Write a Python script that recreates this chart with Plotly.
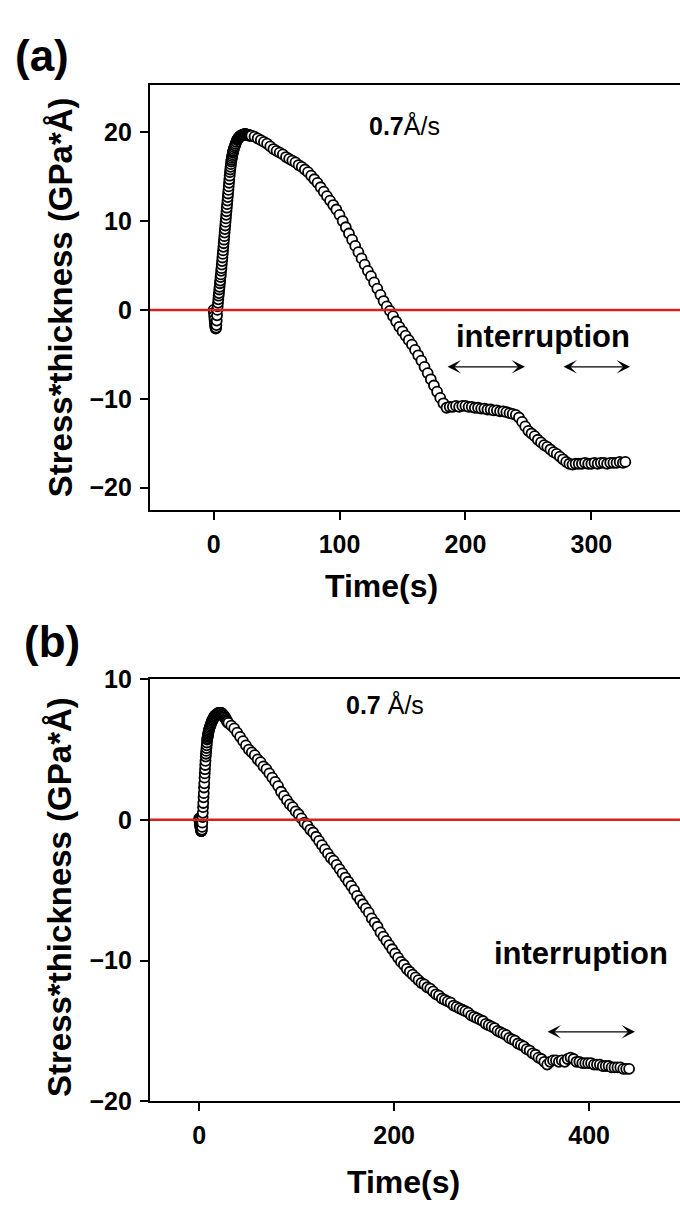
import plotly.graph_objects as go

W, H = 680, 1207
FONT = "Arial, 'Liberation Sans', Helvetica, sans-serif"

# ---------------- data: panel (a) ----------------
t_a = [0, 0.25, 0.5, 0.75, 1, 1.25, 1.5, 1.75, 2, 2.25, 2.5, 2.75, 3, 3.25, 3.5, 3.75,
       4, 4.25, 4.5, 4.75, 5, 5.25, 5.5, 5.75, 6, 6.25, 6.5, 6.75, 7, 7.25, 7.5, 7.75,
       8, 8.25, 8.5, 8.75, 9, 9.25, 9.5, 9.75, 10, 10.25, 10.5, 10.75, 11, 11.25, 11.5, 11.75,
       12, 12.25, 12.5, 12.75, 13, 13.25, 13.5, 13.75, 14, 14.25, 14.5, 14.75, 15, 15.25, 15.5, 15.75, 16,
       16.5, 17, 17.5, 18, 18.5, 19, 19.5, 20, 20.5, 21, 21.5, 22, 22.5, 23, 23.5, 24, 24.5,
       25, 25.5, 26, 26.5, 27, 27.5, 28, 28.5, 29, 29.5,
       30, 32.5, 35, 37.5, 40, 42.5, 45, 47.5, 50, 52.5,
       55, 57.5, 60, 62.5, 65, 67.5, 70, 72.5, 75, 77.5,
       80, 82.5, 85, 87.5, 90, 92.5, 95, 97.5, 100, 102.5,
       105, 107.5, 110, 112.5, 115, 117.5, 120, 122.5, 125, 127.5,
       130, 132.5, 135, 137.5, 140, 142.5, 145, 147.5, 150, 152.5,
       155, 157.5, 160, 162.5, 165, 167.5, 170, 172.5, 175, 177.5,
       180, 182.5, 185, 187.5, 190, 192.5, 195, 197.5, 200, 202.5,
       205, 207.5, 210, 212.5, 215, 217.5, 220, 222.5, 225, 227.5,
       230, 232.5, 235, 237.5, 240, 242.5, 245, 247.5, 250, 252.5,
       255, 257.5, 260, 262.5, 265, 267.5, 270, 272.5, 275, 277.5,
       280, 282.5, 285, 287.5, 290, 292.5, 295, 297.5, 300, 302.5,
       305, 307.5, 310, 312.5, 315, 317.5, 320, 322.5, 325, 327]
v_a = [0.0, -0.3, -0.7, -1.1, -1.5, -1.8, -2.0, -2.1, -2.0, -1.7, -1.2, -0.6, 0.0,
       0.4, 0.8, 1.2, 1.6, 1.9, 2.3, 2.6, 3.0, 3.3, 3.7,
       4.0, 4.4, 4.7, 5.1, 5.5, 5.9, 6.3, 6.7, 7.1, 7.5,
       7.9, 8.3, 8.7, 9.1, 9.5, 9.9, 10.3, 10.7, 11.1, 11.5,
       11.9, 12.3, 12.7, 13.1, 13.5, 13.9, 14.3, 14.7, 15.1, 15.5,
       15.8, 16.1, 16.4, 16.7, 16.9, 17.1, 17.3, 17.5, 17.7, 17.8,
       17.9, 18.1,
       18.3, 18.5, 18.7, 18.9, 19.1, 19.2, 19.3, 19.4, 19.5, 19.5, 19.6, 19.6, 19.7, 19.7,
       19.7, 19.7, 19.8, 19.8, 19.8, 19.7, 19.7, 19.7, 19.7, 19.7, 19.6, 19.6, 19.6,
       19.6, 19.5, 19.3, 19.1, 18.9, 18.7, 18.4, 18.1, 17.9, 17.7,
       17.5, 17.2, 17.0, 16.8, 16.6, 16.3, 16.1, 15.8, 15.5, 15.1,
       14.7, 14.3, 13.8, 13.3, 12.8, 12.3, 11.8, 11.3, 10.7, 10.0,
       9.3, 8.6, 7.9, 7.2, 6.5, 5.8, 5.1, 4.4, 3.8, 3.1,
       2.4, 1.7, 1.0, 0.4, -0.1, -0.7, -1.3, -1.9, -2.4, -2.9,
       -3.4, -3.9, -4.5, -5.1, -5.7, -6.4, -7.1, -7.8, -8.5, -9.2,
       -9.9, -10.5, -11.0, -10.9, -10.9, -10.8, -10.9, -10.8, -10.8, -10.9,
       -10.9, -11.0, -11.0, -11.1, -11.1, -11.2, -11.2, -11.3, -11.3, -11.4,
       -11.4, -11.5, -11.6, -11.7, -11.8, -12.1, -12.6, -13.1, -13.6, -13.9,
       -14.2, -14.6, -14.9, -15.2, -15.4, -15.7, -16.0, -16.2, -16.5, -16.8,
       -17.1, -17.3, -17.4, -17.3, -17.3, -17.3, -17.2, -17.3, -17.3, -17.2,
       -17.3, -17.2, -17.2, -17.3, -17.2, -17.2, -17.2, -17.1, -17.2, -17.1]

# ---------------- data: panel (b) ----------------
t_b = [0, 0.25, 0.5, 0.75, 1, 1.25, 1.5, 1.75, 2, 2.25, 2.5, 2.75, 3, 3.25, 3.5, 3.75,
       4, 4.25, 4.5, 4.75, 5, 5.25, 5.5, 5.75, 6, 6.25, 6.5, 6.75, 7, 7.25, 7.5, 7.75,
       8, 8.25, 8.5, 8.75, 9, 9.25, 9.5, 9.75, 10,
       10.5, 11, 11.5, 12, 12.5, 13, 13.5, 14, 14.5, 15, 15.5, 16, 16.5, 17, 17.5, 18, 18.5,
       19, 19.5, 20, 20.5, 21, 21.5, 22, 22.5, 23, 23.5, 24, 24.5, 25, 25.5, 26, 26.5, 27,
       27.5, 28, 28.5, 29, 29.5, 30,
       33, 36, 39, 42, 45, 48, 51, 54, 57, 60,
       63, 66, 69, 72, 75, 78, 81, 84, 87, 90,
       93, 96, 99, 102, 105, 108, 111, 114, 117, 120,
       123, 126, 129, 132, 135, 138, 141, 144, 147, 150,
       153, 156, 159, 162, 165, 168, 171, 174, 177, 180,
       183, 186, 189, 192, 195, 198, 201, 204, 207, 210,
       213, 216, 219, 222, 225, 228, 231, 234, 237, 240,
       243, 246, 249, 252, 255, 258, 261, 264, 267, 270,
       273, 276, 279, 282, 285, 288, 291, 294, 297, 300,
       303, 306, 309, 312, 315, 318, 321, 324, 327, 330,
       333, 336, 339, 342, 345, 348, 351, 354, 357, 360,
       363, 366, 369, 372, 375, 378, 381, 384, 387, 390,
       393, 396, 399, 402, 405, 408, 411, 414, 417, 420,
       423, 426, 429, 432, 435, 438, 441]
v_b = [0.1, 0.0, -0.1, -0.3, -0.4, -0.5, -0.6, -0.7, -0.8, -0.8,
       -0.8, -0.7, -0.5, -0.2, 0.2, 0.5, 0.9, 1.2, 1.6, 1.9,
       2.3, 2.6, 3.0, 3.3, 3.6, 3.9, 4.2, 4.5, 4.7, 4.9,
       5.1, 5.3, 5.5, 5.7, 5.8, 5.9, 6.0, 6.1, 6.2, 6.3, 6.4,
       6.5, 6.6, 6.7, 6.8, 6.9, 7.0, 7.1, 7.1, 7.2, 7.3, 7.3, 7.4, 7.4, 7.4, 7.5, 7.5, 7.5,
       7.5, 7.6, 7.6, 7.6, 7.6, 7.6, 7.6, 7.6, 7.6, 7.5, 7.5, 7.5, 7.4, 7.4, 7.3, 7.3, 7.2,
       7.2, 7.1, 7.0, 7.0, 6.9, 6.9,
       6.7, 6.5, 6.2, 5.9, 5.6, 5.3, 5.0, 4.8, 4.6, 4.3,
       4.1, 3.8, 3.6, 3.3, 3.0, 2.7, 2.4, 2.0, 1.7, 1.4,
       1.1, 0.9, 0.6, 0.4, 0.1, -0.2, -0.4, -0.7, -0.9, -1.2,
       -1.5, -1.8, -2.1, -2.4, -2.7, -2.9, -3.2, -3.5, -3.8, -4.1,
       -4.4, -4.7, -5.0, -5.4, -5.7, -6.0, -6.3, -6.6, -7.0, -7.3,
       -7.6, -8.0, -8.3, -8.6, -8.9, -9.2, -9.5, -9.8, -10.1, -10.3,
       -10.6, -10.8, -11.0, -11.2, -11.4, -11.6, -11.7, -11.9, -12.0, -12.2,
       -12.4, -12.5, -12.7, -12.8, -12.9, -13.0, -13.2, -13.3, -13.4, -13.5,
       -13.6, -13.7, -13.9, -14.0, -14.1, -14.2, -14.3, -14.5, -14.6, -14.7,
       -14.8, -15.0, -15.1, -15.2, -15.3, -15.5, -15.6, -15.7, -15.9, -16.0,
       -16.1, -16.3, -16.4, -16.6, -16.7, -16.9, -17.0, -17.2, -17.4, -17.2,
       -17.1, -17.1, -17.2, -17.1, -17.2, -17.0, -16.9, -17.0, -17.2, -17.2,
       -17.3, -17.3, -17.3, -17.3, -17.4, -17.4, -17.4, -17.5, -17.5, -17.5,
       -17.6, -17.6, -17.6, -17.6, -17.7, -17.7, -17.7]

# ---------------- ticks / labels ----------------
xticks_a = [0, 100, 200, 300]
yticks_a = [-20, -10, 0, 10, 20]
xticks_b = [0, 200, 400]
yticks_b = [-20, -10, 0, 10]
x_range_a = [-50.5, 370.4]
y_range_a = [-22.53, 25.27]
x_range_b = [-50.4, 493.2]
y_range_b = [-20, 10]
interrupt_a = [[184.6, 247.3], [276.7, 330.7]]
interrupt_a_y = -6.4
interrupt_b = [[355.8, 447.0]]
interrupt_b_y = -15.07
zero_level = 0
y_title = "Stress*thickness (GPa*Å)"
x_title = "Time(s)"


def px(x):
    return x / W


def py(y):
    return 1 - y / H


fig = go.Figure()
marker = dict(symbol="circle", size=10, color="white", line=dict(color="black", width=1.8))
fig.add_trace(go.Scatter(x=t_a, y=v_a, mode="markers", marker=marker,
                         xaxis="x", yaxis="y", showlegend=False, hoverinfo="skip"))
fig.add_trace(go.Scatter(x=t_b, y=v_b, mode="markers", marker=marker,
                         xaxis="x2", yaxis="y2", showlegend=False, hoverinfo="skip"))

tickfont = dict(family=FONT, size=25, color="black", weight="bold")
axis_common = dict(showline=True, linecolor="black", linewidth=2.2, ticks="outside",
                   ticklen=8, tickwidth=2, tickcolor="black", showgrid=False,
                   zeroline=False, tickfont=tickfont, ticklabelstandoff=3)

fig.update_layout(
    width=W, height=H, autosize=False,
    margin=dict(l=0, r=0, t=0, b=0),
    paper_bgcolor="white", plot_bgcolor="white",
    xaxis=dict(domain=[px(150), 1.0], range=x_range_a, tickvals=xticks_a,
               anchor="y", mirror=True, **axis_common),
    yaxis=dict(domain=[py(508), py(73)], range=y_range_a, tickvals=yticks_a,
               anchor="x", **axis_common),
    xaxis2=dict(domain=[px(150), 1.0], range=x_range_b, tickvals=xticks_b,
                anchor="y2", mirror=True, **axis_common),
    yaxis2=dict(domain=[py(1113), py(681)], range=y_range_b, tickvals=yticks_b,
                anchor="x2", **axis_common),
)

# zero reference lines
for xr, yr in (("x domain", "y"), ("x2 domain", "y2")):
    fig.add_shape(type="line", xref=xr, yref=yr, x0=0, x1=1, y0=zero_level, y1=zero_level,
                  line=dict(color="#d8201c", width=2.5), layer="above")

ann = []
# panel labels
ann.append(dict(text="<b>(a)</b>", x=px(42), y=py(42), font=dict(size=44)))
ann.append(dict(text="<b>(b)</b>", x=px(52), y=py(642), font=dict(size=44)))
# y titles
ann.append(dict(text="<b>" + y_title + "</b>", x=px(60), y=py(290), textangle=-90, font=dict(size=33)))
ann.append(dict(text="<b>" + y_title + "</b>", x=px(59), y=py(904), textangle=-90, font=dict(size=33)))
# x titles
ann.append(dict(text="<b>" + x_title + "</b>", x=px(381), y=py(586), font=dict(size=32)))
ann.append(dict(text="<b>" + x_title + "</b>", x=px(403), y=py(1196), font=dict(size=32)))
# rate labels
ann.append(dict(text="<b>0.7</b>Å/s", x=px(367), y=py(114), xanchor="left", font=dict(size=25)))
ann.append(dict(text="<b>0.7</b> Å/s", x=px(344), y=py(707), xanchor="left", font=dict(size=25)))
# interruption labels
ann.append(dict(text="<b>interruption</b>", x=px(543), y=py(330), font=dict(size=31)))
ann.append(dict(text="<b>interruption</b>", x=px(581), y=py(962), font=dict(size=31)))

for a in ann:
    a.setdefault("xanchor", "center")
    a.update(xref="paper", yref="paper", showarrow=False, yanchor="middle")
    a["font"] = dict(family=FONT, color="black", **a["font"])
    fig.add_annotation(**a)

arrow_style = dict(text="", showarrow=True, arrowhead=3, arrowsize=1.6, arrowwidth=1.4,
                   arrowcolor="black", arrowside="end+start", standoff=0, startstandoff=0)
for x0, x1 in interrupt_a:
    fig.add_annotation(x=x1, y=interrupt_a_y, ax=x0, ay=interrupt_a_y, xref="x", yref="y",
                       axref="x", ayref="y", **arrow_style)
for x0, x1 in interrupt_b:
    fig.add_annotation(x=x1, y=interrupt_b_y, ax=x0, ay=interrupt_b_y, xref="x2", yref="y2",
                       axref="x2", ayref="y2", **arrow_style)

fig.write_html("out.html")
